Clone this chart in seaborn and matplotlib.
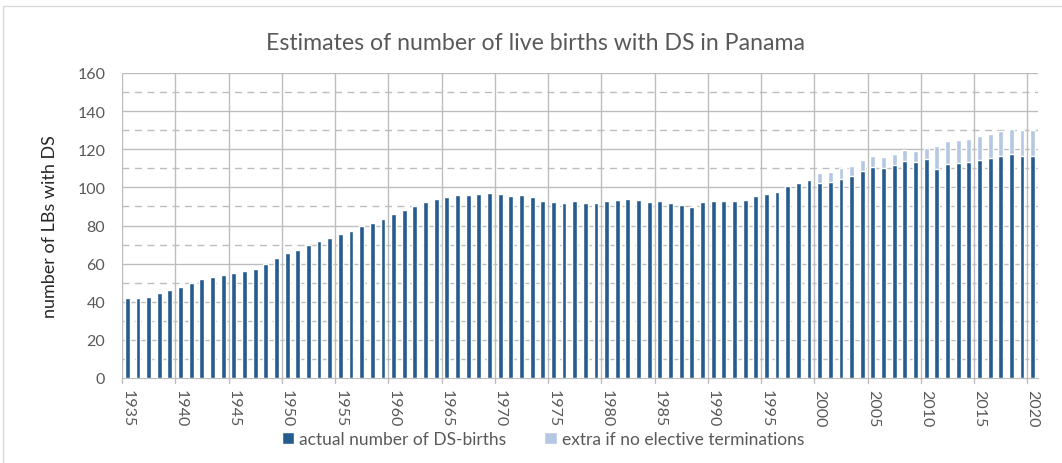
import numpy as np
import pandas as pd
import matplotlib
matplotlib.use("Agg")
import matplotlib.pyplot as plt
import seaborn as sns
from matplotlib.patches import Rectangle, Patch

# data
years = list(range(1935, 2021))
actual = [
    41.8, 42.1, 42.7, 44.6, 46.3, 47.9, 50.0, 51.7, 53.1, 54.0,
    54.9, 56.3, 57.2, 60.0, 62.8, 65.4, 67.2, 69.8, 71.7, 73.5,
    75.3, 77.1, 79.5, 81.2, 83.4, 85.8, 88.0, 90.3, 92.2, 93.9,
    95.0, 95.8, 96.2, 96.7, 96.8, 96.3, 95.3, 96.2, 94.9, 93.1,
    92.2, 91.7, 92.7, 91.7, 91.7, 93.1, 93.6, 94.1, 93.6, 92.2,
    92.7, 91.8, 90.9, 89.9, 92.2, 93.0, 92.7, 93.0, 93.5, 95.3,
    96.7, 97.6, 100.7, 102.2, 104.0, 102.3, 102.7, 104.6, 106.0, 108.5,
    110.9, 110.4, 111.8, 114.0, 113.2, 114.9, 109.7, 112.3, 112.6, 113.2,
    114.5, 115.4, 116.3, 117.5, 116.3, 116.6,
]
extra = [0.0] * 65 + [
    5.3, 5.2, 5.6, 5.1, 5.9, 5.7, 5.4, 5.7, 5.8, 5.7,
    5.9, 11.9, 12.2, 12.3, 12.2, 12.6, 12.6, 13.4, 13.1, 13.8, 13.7,
]
series_names = ["actual number of DS-births", "extra if no elective terminations"]

DARK = "#255B8F"
LIGHT = "#B4C8E4"
GRID = "#BDBDBD"
TEXT = "#595959"

df = pd.DataFrame({"year": [str(y) for y in years], "actual": actual, "extra": extra})
df["total"] = df["actual"] + df["extra"]

sns.set_style("white")
plt.rcParams["font.family"] = ["Lato", "DejaVu Sans"]

fig = plt.figure(figsize=(10.62, 4.64), dpi=100)
ax = fig.add_axes([122 / 1062, 1 - 379 / 464, (1038 - 122) / 1062, (379 - 74) / 464])

# stacked look: total in light blue, actual in dark blue on top of it
sns.barplot(data=df, x="year", y="total", color=LIGHT, width=0.46,
            saturation=1, ax=ax, zorder=3)
sns.barplot(data=df, x="year", y="actual", color=DARK, width=0.46,
            saturation=1, ax=ax, zorder=4)

ax.set_xlim(-0.5, len(years) - 0.5)
ax.set_ylim(0, 160)

# horizontal grid: solid every 20, dashed at the odd tens
for v in range(20, 161, 20):
    ax.axhline(v, color=GRID, lw=1, zorder=1)
for v in range(10, 160, 20):
    ax.axhline(v, color=GRID, lw=1, ls=(0, (5, 4)), zorder=1)
# vertical grid between categories, every 5 years
for i in range(0, len(years), 5):
    ax.axvline(i - 0.5, color=GRID, lw=1, zorder=1)

ax.set_yticks(range(0, 161, 20))
ax.set_yticklabels([str(v) for v in range(0, 161, 20)], fontsize=11.5, color=TEXT)
ax.set_xticks(range(0, len(years), 5))
ax.set_xticklabels([str(y) for y in years[::5]], rotation=-90, fontsize=11.5, color=TEXT)
ax.tick_params(axis="x", length=0, pad=8)
ax.tick_params(axis="y", length=0, pad=12)
for i in range(0, len(years), 5):
    ax.plot([i - 0.5, i - 0.5], [0, -2.5], color=GRID, lw=1, clip_on=False)

for side in ["top", "right", "left"]:
    ax.spines[side].set_visible(False)
ax.spines["bottom"].set_color(GRID)
ax.set_xlabel("")
ax.set_ylabel("number of LBs with DS", fontsize=13, color="#262626", labelpad=14)

fig.text(535 / 1062, 1 - 44 / 464, "Estimates of number of live births with DS in Panama",
         ha="center", va="center", fontsize=16.7, color=TEXT)

handles = [Patch(facecolor=DARK), Patch(facecolor=LIGHT)]
fig.legend(handles, series_names, loc="center", bbox_to_anchor=(543 / 1062, 1 - 440 / 464),
           ncol=2, frameon=False, fontsize=12.5, labelcolor=TEXT, handlelength=0.7,
           handleheight=0.7, handletextpad=0.3, columnspacing=2.2)

fig.patches.append(Rectangle((3 / 1062, -0.05), 1.1, 1.05 - 7 / 464, transform=fig.transFigure,
                             fill=False, edgecolor="#D9D9D9", lw=1))

fig.savefig("out.png", dpi=100)
